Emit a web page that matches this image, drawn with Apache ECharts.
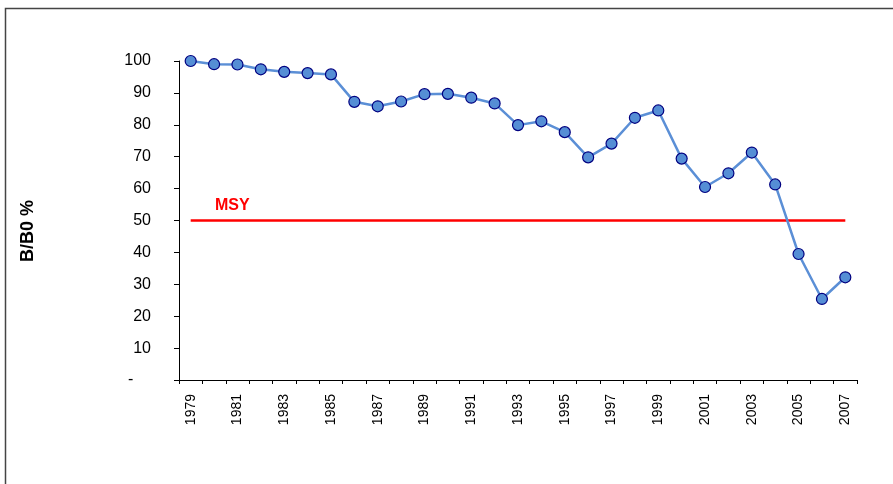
<!DOCTYPE html>
<html>
<head>
<meta charset="utf-8">
<script src="https://cdn.jsdelivr.net/npm/echarts@6/dist/echarts.min.js"></script>
<style>
  html, body { margin: 0; padding: 0; background: #fff; }
  #chart { width: 893px; height: 484px; }
</style>
</head>
<body>
<div id="chart"></div>
<script>
// years on the x axis
const years = ['1979','1980','1981','1982','1983','1984','1985','1986','1987','1988',
  '1989','1990','1991','1992','1993','1994','1995','1996','1997','1998',
  '1999','2000','2001','2002','2003','2004','2005','2006','2007'];
// B/B0 %
const biomass = [100, 99, 98.9, 97.4, 96.6, 96.2, 95.8, 87.2, 85.8, 87.3,
  89.6, 89.7, 88.5, 86.7, 79.9, 81.1, 77.7, 69.8, 74.1, 82.2,
  84.5, 69.4, 60.5, 64.8, 71.3, 61.3, 39.5, 25.4, 32.2];
const msyLevel = 50;
const msy = years.map(() => msyLevel);

const chart = echarts.init(document.getElementById('chart'));
const font = 'Liberation Sans, Arial, sans-serif';

const option = {
  animation: false,
  backgroundColor: '#fff',
  grid: { left: 179, top: 61, right: 36, bottom: 104 },
  xAxis: {
    type: 'category',
    data: years,
    boundaryGap: true,
    axisLine: { lineStyle: { color: '#000', width: 1 } },
    axisTick: { show: true, length: 4, interval: 0, lineStyle: { color: '#000' } },
    axisLabel: {
      interval: 1, rotate: 90, margin: 14,
      color: '#000', fontFamily: font, fontSize: 14
    },
    splitLine: { show: false }
  },
  yAxis: {
    type: 'value',
    min: 0, max: 100, interval: 10,
    axisLine: { show: true, lineStyle: { color: '#000', width: 1 } },
    axisTick: { show: true, length: 5, lineStyle: { color: '#000' } },
    axisLabel: {
      margin: 28, color: '#000', fontFamily: font, fontSize: 16,
      formatter: v => v === 0 ? '-    ' : String(v)
    },
    splitLine: { show: false }
  },
  series: [
    {
      name: 'MSY',
      type: 'line',
      data: msy,
      symbol: 'none',
      lineStyle: { color: '#ff0000', width: 2.5 },
      z: 2
    },
    {
      name: 'B/B0',
      type: 'line',
      data: biomass,
      symbol: 'circle',
      symbolSize: 11,
      lineStyle: { color: '#5b8fd6', width: 2.5 },
      itemStyle: { color: '#558ed5', borderColor: '#000080', borderWidth: 1.2 },
      z: 3
    }
  ],
  graphic: [
    {
      type: 'rect',
      shape: { x: 5.5, y: 8.5, width: 1000, height: 600 },
      style: { fill: 'none', stroke: '#444', lineWidth: 1.5 },
      silent: true
    },
    {
      type: 'text',
      left: 215, top: 198,
      style: { text: 'MSY', fill: '#ff0000', font: 'bold 16px ' + font }
    },
    {
      type: 'text',
      x: 28, y: 231, rotation: Math.PI / 2,
      style: {
        text: 'B/B0 %', fill: '#000', font: 'bold 18px ' + font,
        align: 'center', verticalAlign: 'middle'
      }
    }
  ]
};
chart.setOption(option);
</script>
</body>
</html>
